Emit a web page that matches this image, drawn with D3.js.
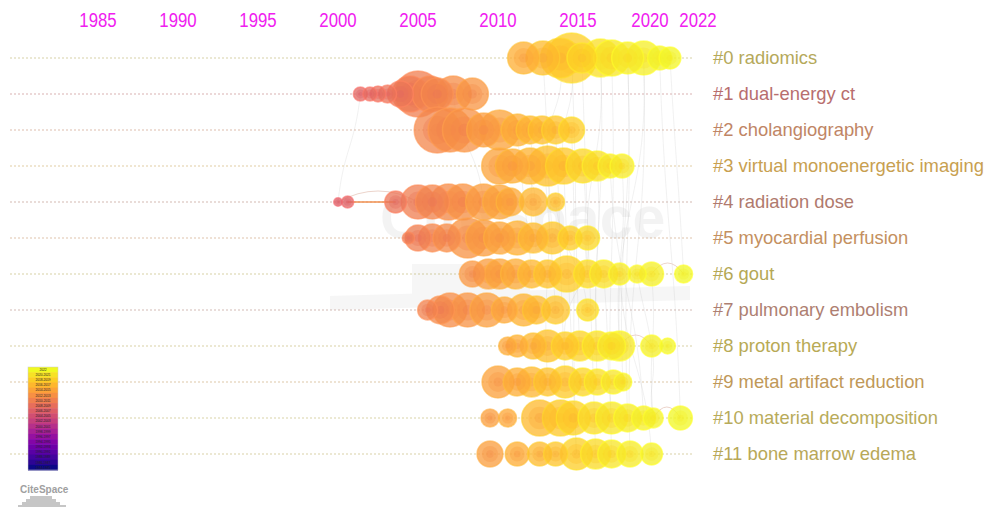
<!DOCTYPE html>
<html>
<head>
<meta charset="utf-8">
<script src="https://cdn.jsdelivr.net/npm/d3@7"></script>
<style>
  body { margin: 0; background: #fff; }
  svg { display: block; }
</style>
</head>
<body>
<div id="display"></div>
<script>
// year ticks on top
const tickYears = [1985, 1990, 1995, 2000, 2005, 2010, 2015, 2020, 2022];

// cluster labels
const clusterLabels = [
  "#0 radiomics", "#1 dual-energy ct", "#2 cholangiography",
  "#3 virtual monoenergetic imaging", "#4 radiation dose", "#5 myocardial perfusion",
  "#6 gout", "#7 pulmonary embolism", "#8 proton therapy",
  "#9 metal artifact reduction", "#10 material decomposition", "#11 bone marrow edema"
];

// node years per cluster
const nodeYears = [
  [2011.6, 2012.8, 2013.9, 2014.6, 2015.25, 2016.4, 2017.1, 2018.1, 2019.1, 2020.1, 2020.75],
  [2001.4, 2002, 2002.5, 2003.1, 2003.9, 2004.5, 2005, 2005.75, 2006.2, 2007.2, 2008.4],
  [2006.2, 2007, 2007.9, 2009.1, 2010.1, 2011.2, 2012, 2012.75, 2013.6, 2014.6],
  [2010.1, 2010.9, 2012, 2013.1, 2014.1, 2015.3, 2016.2, 2017, 2017.75],
  [2000, 2000.6, 2003.6, 2005, 2005.9, 2006.9, 2007.8, 2009.1, 2010.1, 2010.75, 2012.2, 2013.6],
  [2004.4, 2005, 2005.9, 2006.8, 2008.1, 2009.1, 2010.1, 2011.2, 2012.2, 2013.4, 2014.5, 2015.6],
  [2008.4, 2009.4, 2010.1, 2011.1, 2012.1, 2013.1, 2014.3, 2015.6, 2016.6, 2017.6, 2018.7, 2019.6, 2021.6],
  [2005.6, 2006.4, 2007, 2008.1, 2009.3, 2010.4, 2011.6, 2012.4, 2013.6, 2015.6],
  [2010.6, 2011.2, 2012.2, 2013.1, 2014.2, 2015.1, 2016.2, 2017.1, 2017.6, 2019.6, 2020.6],
  [2010, 2011.2, 2012.1, 2013.1, 2014.2, 2015.3, 2016.2, 2017.2, 2017.8],
  [2009.5, 2010.6, 2012.6, 2013.9, 2014.7, 2016, 2017.1, 2018.1, 2019.1, 2019.7, 2021.4],
  [2009.5, 2011.2, 2012.6, 2013.6, 2014.9, 2016.1, 2017.1, 2018.25, 2019.6]
];

// node citation counts per cluster
const nodeCites = [
  [41, 46, 64, 100, 36, 58, 52, 41, 46, 23, 19],
  [8, 8, 10, 13, 27, 52, 85, 52, 41, 52, 41],
  [85, 77, 77, 46, 64, 41, 31, 31, 31, 27],
  [52, 46, 52, 64, 52, 46, 36, 23, 23],
  [3, 6, 19, 46, 46, 52, 52, 52, 46, 31, 31, 13],
  [6, 27, 31, 31, 64, 52, 41, 46, 36, 41, 23, 23],
  [27, 36, 36, 36, 31, 31, 52, 31, 31, 19, 13, 23, 13],
  [16, 31, 46, 46, 46, 27, 41, 31, 31, 19],
  [13, 19, 27, 41, 31, 36, 36, 31, 36, 19, 10],
  [41, 31, 36, 31, 41, 31, 27, 23, 13],
  [13, 13, 52, 52, 46, 41, 41, 31, 23, 16, 23],
  [27, 23, 23, 23, 41, 36, 31, 27, 19]
];

// links between nodes: [cluster, node, cluster, node]
const links = [
  [0, 3, 3, 4], [0, 5, 6, 7], [0, 7, 10, 7], [0, 8, 8, 8], [2, 8, 9, 4],
  [3, 5, 6, 7], [0, 9, 10, 10], [3, 6, 8, 6], [6, 8, 10, 6], [0, 4, 11, 5],
  [3, 3, 9, 3], [2, 6, 5, 8], [4, 0, 1, 0], [6, 10, 8, 9], [0, 6, 11, 6],
  [0, 2, 3, 3], [3, 7, 10, 8], [6, 11, 10, 9], [8, 9, 10, 9], [4, 10, 3, 2],
  [5, 11, 8, 4], [0, 10, 6, 12], [2, 9, 11, 4], [1, 9, 4, 7], [0, 1, 5, 9],
  [2, 7, 7, 8], [3, 8, 8, 8], [6, 9, 11, 8], [0, 7, 9, 8], [4, 11, 7, 9],
  [0, 5, 9, 6], [0, 8, 11, 7], [3, 4, 11, 4], [2, 5, 6, 4], [0, 3, 8, 5]
];
// arcs inside a cluster
const innerArcs = [[4, 0, 4, 3], [6, 11, 6, 12], [10, 9, 10, 10], [8, 8, 8, 9]];

// legend slices
const legendSlices = ["2022", "2020-2021", "2018-2019", "2016-2017", "2014-2015", "2012-2013",
  "2010-2011", "2008-2009", "2006-2007", "2004-2005", "2002-2003", "2000-2001", "1998-1999",
  "1996-1997", "1994-1995", "1992-1993", "1990-1991", "1988-1989", "1986-1987", "1984-1985"];

const labelColors = ["#b5a95a", "#b86e6e", "#c08565", "#c8a050", "#b07a6e", "#c49060",
  "#b5a855", "#ae7f72", "#b8aa55", "#c09858", "#b8ab5a", "#b8a858"];

const width = 985, height = 507;

const svg = d3.select("#display").append("svg")
  .attr("width", width)
  .attr("height", height);

const x = d3.scaleLinear().domain([1985, 2022]).range([98, 690]);
const y = d3.scaleBand().domain(d3.range(clusterLabels.length)).range([40, 472]);
const rowY = i => y(i) + y.bandwidth() / 2;
const r = d3.scaleSqrt().domain([0, 100]).range([0, 25]);
const tYear = d3.scaleLinear()
  .domain([2000, 2005, 2010, 2014, 2017, 2022])
  .range([0.58, 0.68, 0.78, 0.88, 0.95, 1.0])
  .clamp(true);
const nodeColor = yr => d3.interpolatePlasma(tYear(yr));

// watermark
const wm = svg.append("g").attr("opacity", 0.045);
wm.append("text")
  .attr("x", 380).attr("y", 238)
  .attr("font-family", "Liberation Sans, Arial, sans-serif")
  .attr("font-weight", "bold")
  .attr("font-size", 59)
  .text("CiteSpace");
const wm2 = svg.append("g").attr("opacity", 0.03);
wm2.append("rect").attr("x", 412).attr("y", 264).attr("width", 58).attr("height", 32);
wm2.append("rect").attr("x", 470).attr("y", 272).attr("width", 60).attr("height", 24);
wm2.append("path").attr("d", "M330,296 L690,286 L690,300 L330,310 Z");

// row guide lines
svg.append("g").selectAll("line")
  .data(clusterLabels)
  .join("line")
  .attr("x1", 10).attr("x2", 692)
  .attr("y1", (d, i) => rowY(i)).attr("y2", (d, i) => rowY(i))
  .attr("stroke", (d, i) => labelColors[i])
  .attr("stroke-opacity", 0.35)
  .attr("stroke-width", 1.5)
  .attr("stroke-dasharray", "2,2");

// links
const pt = (c, n) => [x(nodeYears[c][n]), rowY(c)];
svg.append("g").selectAll("path")
  .data(links)
  .join("path")
  .attr("d", d => {
    const [x1, y1] = pt(d[0], d[1]);
    const [x2, y2] = pt(d[2], d[3]);
    const my = (y1 + y2) / 2;
    return `M${x1},${y1}C${x1 + 6},${my} ${x2 - 6},${my} ${x2},${y2}`;
  })
  .attr("fill", "none")
  .attr("stroke", "#bbbbbb")
  .attr("stroke-opacity", 0.3)
  .attr("stroke-width", 0.7);

// nodes
clusterLabels.forEach((lab, ci) => {
  const g = svg.append("g");
  const nodes = nodeYears[ci].map((yr, ni) => ({ yr, c: nodeCites[ci][ni] }))
    .sort((a, b) => b.c - a.c);
  // arcs in this row
  innerArcs.filter(a => a[0] === ci).forEach(a => {
    const [x1, y1] = pt(a[0], a[1]);
    const [x2, y2] = pt(a[2], a[3]);
    g.append("path")
      .attr("d", `M${x1},${y1}Q${(x1 + x2) / 2},${y1 - 22} ${x2},${y2}`)
      .attr("fill", "none")
      .attr("stroke", "#e0b8a8")
      .attr("stroke-opacity", 0.6)
      .attr("stroke-width", 1);
  });
  const node = g.selectAll("g.node")
    .data(nodes)
    .join("g")
    .attr("class", "node")
    .attr("transform", d => `translate(${x(d.yr)},${rowY(ci)})`);
  node.append("circle")
    .attr("r", d => r(d.c))
    .attr("fill", d => nodeColor(d.yr))
    .attr("fill-opacity", 0.75)
    .attr("stroke", d => d3.color(nodeColor(d.yr)).brighter(0.3))
    .attr("stroke-opacity", 0.6)
    .attr("stroke-width", 1.5);
  node.append("circle")
    .attr("r", d => r(d.c) * 0.62)
    .attr("fill", d => nodeColor(d.yr - 1.5))
    .attr("fill-opacity", 0.35);
  node.append("circle")
    .attr("r", d => r(d.c) * 0.28)
    .attr("fill", d => nodeColor(d.yr - 3))
    .attr("fill-opacity", 0.3);
  if (ci === 4) {
    const [x1, y1] = pt(4, 1);
    const [x2] = pt(4, 2);
    g.insert("line", "g.node")
      .attr("x1", x1).attr("x2", x2).attr("y1", y1).attr("y2", y1)
      .attr("stroke", "#f09050").attr("stroke-width", 1.5);
  }
});

// cluster labels
svg.append("g").selectAll("text")
  .data(clusterLabels)
  .join("text")
  .attr("x", 713)
  .attr("y", (d, i) => rowY(i) + 6)
  .attr("font-family", "Liberation Sans, Arial, sans-serif")
  .attr("font-size", 18.4)
  .attr("fill", (d, i) => labelColors[i])
  .text(d => d);

// year axis (narrow type, labels pushed apart when they collide)
const tickX = tickYears.map(d => x(d));
const tickW = 38, tickGap = 10;
for (let i = 1; i < tickX.length; i++) {
  const need = tickW + tickGap - (tickX[i] - tickX[i - 1]);
  if (need > 0) { tickX[i - 1] -= need / 2; tickX[i] += need / 2; }
}
svg.append("g").selectAll("text")
  .data(tickYears)
  .join("text")
  .attr("transform", (d, i) => `translate(${tickX[i]},27) scale(0.8,1)`)
  .attr("text-anchor", "middle")
  .attr("font-family", "Liberation Sans, Arial, sans-serif")
  .attr("font-size", 21)
  .attr("fill", "#f020f0")
  .text(d => d);

// legend
const lg = svg.append("g").attr("transform", "translate(28,367)");
const bandH = 103 / legendSlices.length;
lg.selectAll("rect")
  .data(legendSlices)
  .join("rect")
  .attr("x", 0).attr("y", (d, i) => i * bandH)
  .attr("width", 30).attr("height", bandH + 0.5)
  .attr("fill", (d, i) => d3.interpolatePlasma(1 - i / (legendSlices.length - 1)));
lg.selectAll("text")
  .data(legendSlices)
  .join("text")
  .attr("x", 15).attr("y", (d, i) => i * bandH + bandH * 0.75)
  .attr("text-anchor", "middle")
  .attr("font-family", "Liberation Sans, Arial, sans-serif")
  .attr("font-size", 3.2)
  .attr("fill", "#222")
  .text(d => d);
lg.append("rect").attr("width", 30).attr("height", 103)
  .attr("fill", "none").attr("stroke", "#ccc").attr("stroke-width", 0.5);

// small logo bottom-left
const logo = svg.append("g").attr("fill", "#a0a0a0");
logo.append("text")
  .attr("x", 20).attr("y", 493)
  .attr("font-family", "Liberation Sans, Arial, sans-serif")
  .attr("font-weight", "bold")
  .attr("font-size", 10)
  .text("CiteSpace");
[[30, 496, 22, 3], [26, 499, 30, 3], [22, 502, 38, 3], [18, 505, 48, 2]].forEach(b => {
  logo.append("rect").attr("x", b[0]).attr("y", b[1]).attr("width", b[2]).attr("height", b[3])
    .attr("opacity", 0.6);
});
</script>
</body>
</html>
